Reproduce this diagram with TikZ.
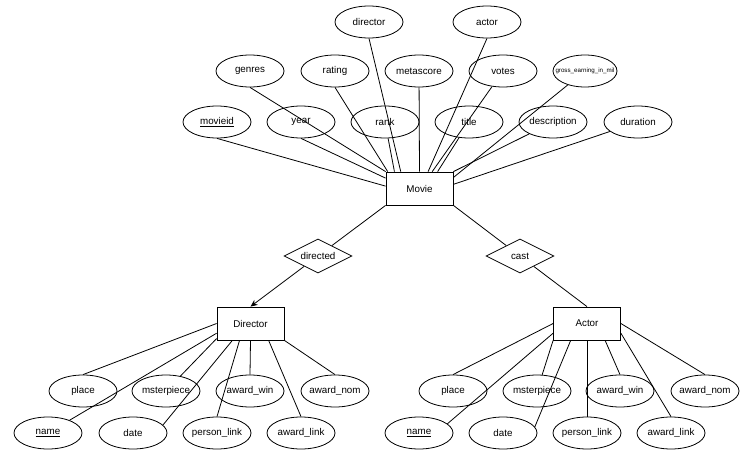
\documentclass[tikz,border=0pt]{standalone}
\usepackage{fontspec}
\setmainfont{Liberation Sans}
\usetikzlibrary{shapes.geometric,arrows.meta}

\begin{document}
\begin{tikzpicture}[x=1pt, y=-1pt, line width=0.8pt,
  every node/.style={draw, font=\fontsize{9.8}{12}\selectfont},
  attr/.style={ellipse, minimum width=68pt, minimum height=32pt, inner xsep=-12pt, inner ysep=0pt},
  ent/.style={rectangle, minimum width=67pt, minimum height=33pt, inner sep=0pt},
  rel/.style={diamond, aspect=2, minimum width=68pt, minimum height=34pt, inner sep=0pt}]
\useasboundingbox (0,0) rectangle (750,460);

% Movie
\node[ent] (movie) at (419.5,188.5) {Movie};
\node[attr] (mdirector) at (369,22) {director};
\node[attr] (mactor) at (487,22) {actor};
\node[attr] (mgenres) at (250,71) {genres};
\node[attr] (mrating) at (335,71) {rating};
\node[attr] (mmeta) at (419,71) {metascore};
\node[attr] (mvotes) at (503,71) {votes};
\node[attr, minimum width=64pt] (mgross) at (585,71) {\fontsize{6.2}{7}\selectfont gross\_earning\_in\_mil};
\node[attr] (mid) at (217,122) {\underline{movieid}};
\node[attr] (myear) at (301,122) {year};
\node[attr] (mrank) at (385,122) {rank};
\node[attr] (mtitle) at (469,122) {title};
\node[attr] (mdesc) at (553,122) {description};
\node[attr] (mduration) at (638,122) {duration};
\draw (mid.south) -- (movie.176);
\draw (myear.south) -- (movie.163);
\draw (mgenres.south) -- (movie.north west);
\draw (mrating.south) -- (movie.152);
\draw (mrank) -- (movie.146);
\draw (mdirector.south) -- (movie.138);
\draw (mmeta) -- (movie.north);
\draw (mactor.south) -- (movie.63);
\draw (mvotes) -- (movie.53);
\draw (mtitle) -- (movie.43);
\draw (mdesc) -- (movie.north east);
\draw (mgross) -- (movie.18);
\draw (mduration) -- (movie.7);

% relations
\node[rel] (directed) at (318,256) {directed};
\node[rel] (cast) at (520,256) {cast};
\node[ent] (dir) at (250.5,323.5) {Director};
\node[ent] (act) at (587,323.5) {Actor};
\draw (movie.south west) -- (directed);
\draw[-{Stealth[length=7pt,width=6pt]}] (directed) -- (dir.north);
\draw (movie.south east) -- (cast);
\draw (cast) -- (act.north);

% Director
\node[attr] (dplace) at (83,391) {place};
\node[attr] (dmaster) at (166,391) {msterpiece};
\node[attr] (dwin) at (250,391) {award\_win};
\node[attr] (dnom) at (335,391) {award\_nom};
\node[attr] (dname) at (48,433) {\underline{name}};
\node[attr] (ddate) at (133,433) {date};
\node[attr] (dperson) at (217,433) {person\_link};
\node[attr] (dlink) at (301,433) {award\_link};
\draw (dplace.north) -- (dir.west);
\draw (dname) -- (dir.196);
\draw (dmaster) -- (dir.204);
\draw (ddate.15) -- (dir.223);
\draw (dperson.north) -- (dir.237);
\draw (dwin.north) -- (dir.south);
\draw (dlink.north) -- (dir.317);
\draw (dnom.north) -- (dir.south east);

% Actor
\node[attr] (aplace) at (453,391) {place};
\node[attr] (amaster) at (537,391) {msterpiece};
\node[attr] (awin) at (620,391) {award\_win};
\node[attr] (anom) at (705,391) {award\_nom};
\node[attr] (aname) at (419,433) {\underline{name}};
\node[attr] (adate) at (503,433) {date};
\node[attr] (aperson) at (587,433) {person\_link};
\node[attr] (alink) at (671,433) {award\_link};
\draw (aplace.north) -- (act.west);
\draw (aname.18) -- (act.196);
\draw (amaster) -- (act.south west);
\draw (adate.11) -- (act.226);
\draw (aperson.north) -- (act.south);
\draw (awin.north) -- (act.317);
\draw (alink.north) -- (act.344);
\draw (anom.north) -- (act.east);
\end{tikzpicture}
\end{document}
